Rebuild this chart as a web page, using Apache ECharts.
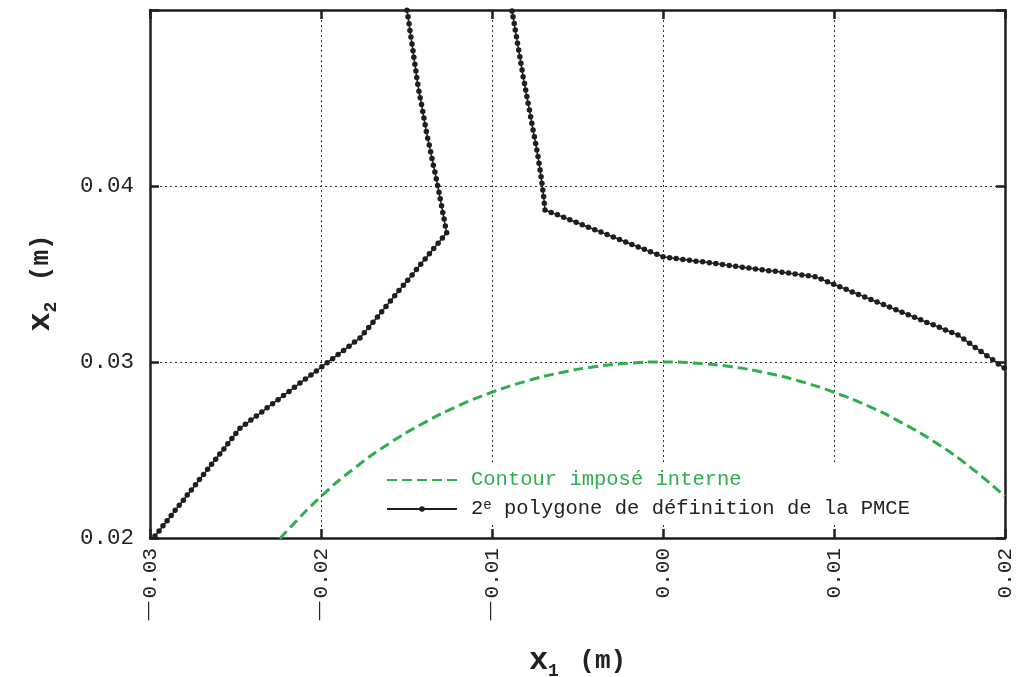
<!DOCTYPE html>
<html>
<head>
<meta charset="utf-8">
<script src="https://cdn.jsdelivr.net/npm/echarts@6/dist/echarts.min.js"></script>
<style>html,body{margin:0;padding:0;background:#fff;}#c{width:1016px;height:677px;}</style>
</head>
<body>
<div id="c"></div>
<script>
// ---- data ----
var xTicks = [-0.03, -0.02, -0.01, 0.00, 0.01, 0.02];
var yTicks = [0.02, 0.03, 0.04];
var contourName = 'Contour imposé interne';
var polyName = '2e polygone de définition de la PMCE';

// inner imposed contour (green dashed)
var contour = [
  [-0.0224,0.01996],[-0.022,0.0204],[-0.020,0.02236],[-0.018,0.0240],[-0.016,0.02538],
  [-0.014,0.02653],[-0.012,0.02750],[-0.010,0.02828],[-0.008,0.02891],[-0.006,0.02939],
  [-0.004,0.02973],[-0.002,0.02993],[0.000,0.03000],[0.002,0.02993],[0.004,0.02973],
  [0.006,0.02939],[0.008,0.02891],[0.010,0.02828],[0.012,0.02750],[0.014,0.02653],
  [0.016,0.02538],[0.018,0.0240],[0.020,0.02236]
];

// 2nd definition polygon, left branch (bottom -> top)
var polyLeft = [
  [-0.02971,0.02011],[-0.02947,0.02040],[-0.02924,0.02069],[-0.02900,0.02098],[-0.02876,0.02128],
  [-0.02853,0.02157],[-0.02829,0.02186],[-0.02805,0.02215],[-0.02782,0.02244],[-0.02758,0.02273],
  [-0.02734,0.02302],[-0.02711,0.02332],[-0.02687,0.02361],[-0.02663,0.02390],[-0.02640,0.02419],
  [-0.02616,0.02448],[-0.02592,0.02477],[-0.02568,0.02506],[-0.02545,0.02535],[-0.02521,0.02565],
  [-0.02498,0.02594],[-0.02474,0.02623],
  [-0.02442,0.02646],[-0.02410,0.02670],[-0.02378,0.02693],[-0.02346,0.02716],[-0.02315,0.02740],
  [-0.02283,0.02763],[-0.02251,0.02786],[-0.02219,0.02810],[-0.02187,0.02833],[-0.02155,0.02856],
  [-0.02123,0.02880],[-0.02091,0.02903],[-0.02059,0.02926],[-0.02027,0.02949],[-0.01995,0.02973],
  [-0.01964,0.02996],[-0.01932,0.03019],[-0.01900,0.03043],[-0.01868,0.03066],[-0.01836,0.03089],
  [-0.01804,0.03113],[-0.01772,0.03136],
  [-0.01747,0.03166],[-0.01721,0.03196],[-0.01696,0.03226],[-0.01670,0.03256],[-0.01645,0.03286],
  [-0.01620,0.03316],[-0.01594,0.03346],[-0.01569,0.03376],[-0.01544,0.03406],[-0.01518,0.03436],
  [-0.01493,0.03465],[-0.01467,0.03495],[-0.01442,0.03525],[-0.01417,0.03555],[-0.01391,0.03585],
  [-0.01366,0.03615],[-0.01341,0.03645],[-0.01315,0.03675],[-0.01290,0.03705],[-0.01265,0.03735],
  [-0.01273,0.03773],[-0.01280,0.03812],[-0.01288,0.03850],[-0.01295,0.03888],[-0.01303,0.03927],
  [-0.01310,0.03965],[-0.01318,0.04003],[-0.01326,0.04041],[-0.01334,0.04080],[-0.01343,0.04118],
  [-0.01351,0.04156],[-0.01359,0.04195],[-0.01367,0.04233],[-0.01376,0.04271],[-0.01384,0.04310],
  [-0.01391,0.04348],[-0.01398,0.04386],[-0.01405,0.04424],[-0.01412,0.04463],[-0.01420,0.04501],
  [-0.01427,0.04539],[-0.01434,0.04578],[-0.01440,0.04616],[-0.01445,0.04654],[-0.01451,0.04692],
  [-0.01457,0.04731],[-0.01462,0.04769],[-0.01468,0.04807],[-0.01474,0.04846],[-0.01480,0.04884],
  [-0.01485,0.04922],[-0.01491,0.04961],[-0.01497,0.04999]
];

// 2nd definition polygon, right branch (top -> right edge)
var polyRight = [
  [-0.00883,0.04995],[-0.00877,0.04962],[-0.00870,0.04924],[-0.00864,0.04886],[-0.00857,0.04848],
  [-0.00851,0.04811],[-0.00844,0.04773],[-0.00837,0.04735],[-0.00831,0.04697],[-0.00824,0.04659],
  [-0.00818,0.04621],[-0.00810,0.04583],[-0.00803,0.04545],[-0.00796,0.04508],[-0.00789,0.04470],
  [-0.00781,0.04432],[-0.00774,0.04394],[-0.00767,0.04356],[-0.00760,0.04318],[-0.00752,0.04280],
  [-0.00745,0.04242],[-0.00738,0.04205],[-0.00731,0.04167],[-0.00725,0.04129],[-0.00719,0.04091],
  [-0.00713,0.04053],[-0.00708,0.04015],[-0.00703,0.03977],[-0.00698,0.03940],[-0.00694,0.03902],
  [-0.00690,0.03864],
  [-0.00654,0.03850],[-0.00617,0.03836],[-0.00581,0.03822],[-0.00545,0.03808],[-0.00508,0.03794],
  [-0.00472,0.03780],[-0.00436,0.03766],[-0.00399,0.03752],[-0.00363,0.03738],[-0.00327,0.03724],
  [-0.00291,0.03710],[-0.00254,0.03696],[-0.00218,0.03682],[-0.00182,0.03668],[-0.00145,0.03654],
  [-0.00109,0.03640],[-0.00073,0.03626],[-0.00036,0.03612],[0.00000,0.03598],
  [0.00039,0.03593],[0.00077,0.03588],[0.00116,0.03583],[0.00155,0.03578],[0.00193,0.03573],
  [0.00232,0.03569],[0.00271,0.03564],[0.00309,0.03559],[0.00348,0.03554],[0.00387,0.03549],
  [0.00425,0.03544],[0.00464,0.03539],[0.00502,0.03534],[0.00541,0.03529],[0.00580,0.03524],
  [0.00618,0.03519],[0.00657,0.03515],[0.00696,0.03510],[0.00734,0.03505],[0.00773,0.03500],
  [0.00812,0.03495],[0.00850,0.03490],[0.00889,0.03485],
  [0.00925,0.03471],[0.00962,0.03456],[0.00998,0.03442],[0.01034,0.03427],[0.01071,0.03413],
  [0.01107,0.03398],[0.01143,0.03384],[0.01180,0.03370],[0.01216,0.03355],[0.01252,0.03341],
  [0.01289,0.03326],[0.01325,0.03312],[0.01362,0.03297],[0.01398,0.03283],[0.01434,0.03269],
  [0.01471,0.03254],[0.01507,0.03240],[0.01543,0.03225],[0.01580,0.03211],[0.01616,0.03197],
  [0.01652,0.03182],[0.01689,0.03168],[0.01725,0.03153],
  [0.01759,0.03130],[0.01793,0.03106],[0.01826,0.03083],[0.01860,0.03060],[0.01894,0.03036],
  [0.01928,0.03013],[0.01961,0.02989],[0.01995,0.02966]
];

// ---- chart ----
var FONT = "'Liberation Mono','DejaVu Sans Mono',monospace";
var GREEN = '#2fae4e';
var INK = '#1e1e1e';
var chart = echarts.init(document.getElementById('c'), null, {renderer: 'canvas'});

function fmtX(v) {
  if (Math.abs(v) < 1e-9) v = 0;
  var s = Math.abs(v).toFixed(2);
  return v < 0 ? '{m|\u2212}' + s : s;
}
function fmtY(v) {
  for (var i = 0; i < yTicks.length; i++) if (Math.abs(v - yTicks[i]) < 1e-9) return yTicks[i].toFixed(2);
  return '';
}

var axisLine = {show: true, onZero: false, lineStyle: {color: INK, width: 2.5}};
var tick = {show: true, inside: true, length: 9, lineStyle: {color: INK, width: 2.5}};
var split = {show: true, lineStyle: {color: '#333', width: 1, type: [2, 3]}};
var titleRich = {
  v: {fontFamily: FONT, fontSize: 32, fontWeight: 'bold', color: '#222', lineHeight: 38},
  b: {fontFamily: FONT, fontSize: 26, fontWeight: 'bold', color: '#222', lineHeight: 38},
  sp: {fontFamily: FONT, fontSize: 17, lineHeight: 38},
  s: {fontFamily: FONT, fontSize: 18, fontWeight: 'bold', color: '#222', lineHeight: 18, verticalAlign: 'bottom'}
};

var polyStyle = {
  type: 'line', name: polyName, xAxisIndex: 0, yAxisIndex: 0,
  symbol: 'circle', symbolSize: 5.5, showAllSymbol: true, showSymbol: true,
  lineStyle: {color: INK, width: 1.5}, itemStyle: {color: INK},
  clip: true, animation: false, z: 3
};

chart.setOption({
  animation: false,
  backgroundColor: '#fff',
  grid: {left: 150, right: 11, top: 10, bottom: 139, containLabel: false, outerBoundsMode: 'none'},
  xAxis: [{
    type: 'value', min: -0.03, max: 0.02, interval: 0.01, position: 'bottom',
    axisLine: axisLine, axisTick: tick, splitLine: split,
    axisLabel: {
      rotate: 90, margin: 10, fontFamily: FONT, fontSize: 21, color: '#222', formatter: fmtX,
      rich: {m: {fontFamily: 'DejaVu Sans', fontSize: 30, color: '#222', fontWeight: 'lighter'}}
    },
    name: '{v|x}{s|1}{sp|  }{b|(m)}', nameLocation: 'middle', nameGap: 104,
    nameTextStyle: {rich: titleRich}
  }, {
    type: 'value', min: -0.03, max: 0.02, interval: 0.01, position: 'top',
    axisLine: axisLine, axisTick: tick, splitLine: {show: false}, axisLabel: {show: false}
  }],
  yAxis: [{
    type: 'value', min: 0.02, max: 0.05, interval: 0.01, position: 'left',
    axisLine: axisLine, axisTick: tick, splitLine: split,
    axisLabel: {margin: 16, fontFamily: FONT, fontSize: 22.5, color: '#222', formatter: fmtY},
    name: '{v|x}{s|2}{sp|  }{b|(m)}', nameLocation: 'middle', nameGap: 90, nameRotate: 90,
    nameTextStyle: {rich: titleRich, padding: [0, 18, 0, 0]}
  }, {
    type: 'value', min: 0.02, max: 0.05, interval: 0.01, position: 'right',
    axisLine: axisLine, axisTick: tick, splitLine: {show: false}, axisLabel: {show: false}
  }],
  legend: {
    orient: 'vertical', left: 382, top: 465,
    backgroundColor: '#fff', padding: [4, 6, 4, 4], itemGap: 7,
    itemWidth: 70, itemHeight: 7,
    data: [
      {name: contourName, textStyle: {color: GREEN}, itemStyle: {opacity: 0}},
      {name: polyName, textStyle: {color: '#222'}}
    ],
    formatter: function (n) { return n === polyName ? '2{sup|e} polygone de définition de la PMCE' : n; },
    textStyle: {
      fontFamily: FONT, fontSize: 20.5, padding: [0, 0, 0, 9], lineHeight: 22,
      rich: {sup: {fontFamily: FONT, fontSize: 14, verticalAlign: 'top', lineHeight: 12, color: '#222'}}
    }
  },
  series: [
    {
      type: 'line', name: contourName, data: contour, smooth: true, symbol: 'none', showSymbol: false,
      lineStyle: {color: GREEN, width: 3, type: [10, 5]}, itemStyle: {color: GREEN},
      clip: true, animation: false, z: 2
    },
    Object.assign({}, polyStyle, {data: polyLeft}),
    Object.assign({}, polyStyle, {data: polyRight})
  ]
});
</script>
</body>
</html>
